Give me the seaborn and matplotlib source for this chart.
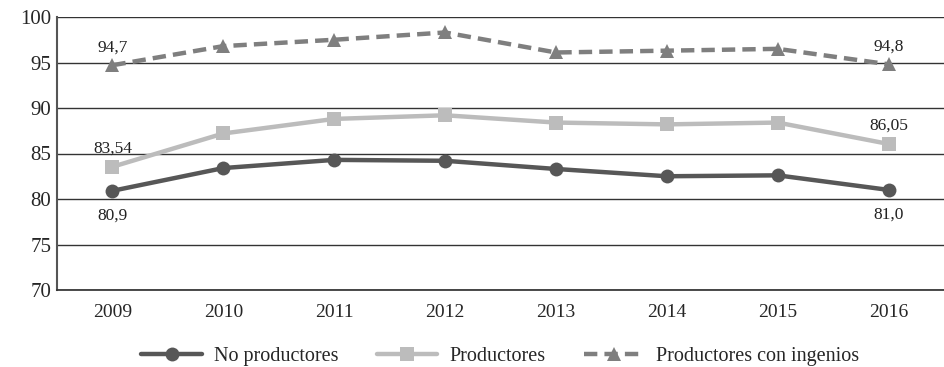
import matplotlib
matplotlib.use("Agg")
import matplotlib.pyplot as plt
import pandas as pd
import seaborn as sns

years = ["2009", "2010", "2011", "2012", "2013", "2014", "2015", "2016"]
no_productores = [80.9, 83.4, 84.3, 84.2, 83.3, 82.5, 82.6, 81.0]
productores = [83.54, 87.2, 88.8, 89.2, 88.4, 88.2, 88.4, 86.05]
con_ingenios = [94.7, 96.8, 97.5, 98.3, 96.1, 96.3, 96.5, 94.8]
series_names = ["No productores", "Productores", "Productores con ingenios"]

# labels shown at first and last year
end_labels = {
    "No productores": ("80,9", "81,0"),
    "Productores": ("83,54", "86,05"),
    "Productores con ingenios": ("94,7", "94,8"),
}

sns.set_theme(style="white")
plt.rcParams["font.family"] = ["Liberation Serif", "DejaVu Serif"]

df = pd.DataFrame({
    "year": years * 3,
    "value": no_productores + productores + con_ingenios,
    "serie": sum([[n] * len(years) for n in series_names], []),
})

colors = {"No productores": "#575757", "Productores": "#bcbcbc",
          "Productores con ingenios": "#7f7f7f"}
markers = {"No productores": "o", "Productores": "s",
           "Productores con ingenios": "^"}
dashes = {"No productores": "", "Productores": "",
          "Productores con ingenios": (3, 1.6)}

fig = plt.figure(figsize=(9.44, 3.67), dpi=100)
ax = fig.add_axes([57 / 944, 1 - 290 / 367, 1 - 57 / 944, (290 - 17) / 367])

sns.lineplot(data=df, x="year", y="value", hue="serie", style="serie",
             palette=colors, markers=markers, dashes=dashes, linewidth=3.2,
             markersize=10, markeredgewidth=0, ax=ax, sort=False)

ax.set_ylim(70, 100)
ax.set_xlim(-0.5, 7.5)
ax.set_yticks(range(70, 101, 5))
ax.yaxis.grid(True, color="#333333", linewidth=1.0)
ax.set_axisbelow(True)
ax.set_xlabel("")
ax.set_ylabel("")
for s in ["top", "right"]:
    ax.spines[s].set_visible(False)
ax.spines["left"].set_color("#555555")
ax.spines["left"].set_linewidth(1.5)
ax.spines["bottom"].set_color("#333333")

ax.set_xticks(range(len(years)))
ax.set_xticklabels(years, fontsize=14)
ax.tick_params(axis="x", length=0, pad=10)
ax.set_xticks([i - 0.5 for i in range(len(years) + 1)], minor=True)
ax.tick_params(axis="x", which="minor", length=14, width=1.0, color="#333333", direction="out")
ax.tick_params(axis="y", length=0, labelsize=15, pad=4)

vals = {"No productores": no_productores, "Productores": productores,
        "Productores con ingenios": con_ingenios}
for name in series_names:
    first, last = end_labels[name]
    off = -18 if name == "No productores" else 13
    for i, txt in ((0, first), (len(years) - 1, last)):
        ax.annotate(txt, (i, vals[name][i]), xytext=(0, off), textcoords="offset points",
                    ha="center", va="center", fontsize=12.5, color="#222222")

h, l = ax.get_legend_handles_labels()
for hh in h:
    hh.set_markersize(10)
ax.legend(h, l, loc="center", bbox_to_anchor=(0.53, 1 - 356 / 367), bbox_transform=fig.transFigure,
          ncol=3, frameon=False, fontsize=14.5, handlelength=3.0, columnspacing=1.9,
          handletextpad=0.6)

fig.savefig("out.png", dpi=100)
